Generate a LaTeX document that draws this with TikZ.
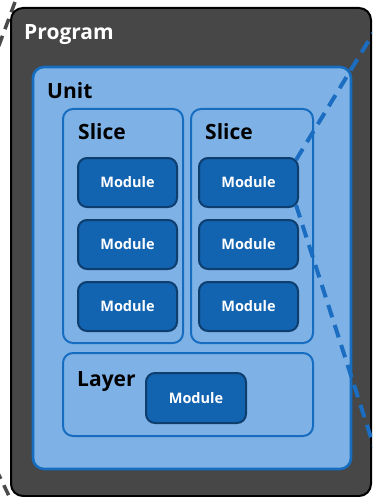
\documentclass[tikz,border=0pt]{standalone}
\usepackage{fontspec}
\setmainfont{Open Sans}
\definecolor{progfill}{HTML}{474747}
\definecolor{unitfill}{HTML}{7EB2E6}
\definecolor{unitline}{HTML}{166CBE}
\definecolor{modfill}{HTML}{1263B0}
\definecolor{modline}{HTML}{0D3E6E}
\definecolor{zoomline}{HTML}{1A6DC0}
\definecolor{outerdash}{HTML}{4A4A4A}
\tikzset{
  box/.style={rectangle, anchor=north west, inner sep=0pt, outer sep=0pt},
  progbox/.style={box, fill=progfill, draw=black, line width=2pt, rounded corners=12pt},
  unitbox/.style={box, fill=unitfill, draw=unitline, line width=2.6pt, rounded corners=11pt},
  slicebox/.style={box, fill=unitfill, draw=unitline, line width=2pt, rounded corners=10pt},
  modbox/.style={box, fill=modfill, draw=modline, line width=2pt, rounded corners=9pt,
    minimum width=99pt, minimum height=49pt},
  modtext/.style={text=white, font=\fontsize{14.5}{16}\selectfont\bfseries, inner sep=0pt},
  title/.style={anchor=base west, inner sep=0pt, font=\fontsize{21}{24}\selectfont\bfseries},
  zoomdash/.style={draw=zoomline, line width=4pt, dash pattern=on 13pt off 8pt},
  outdash/.style={draw=outerdash, line width=3.5pt, dash pattern=on 11pt off 7pt},
}
\begin{document}
\begin{tikzpicture}[x=1pt,y=-1pt]
\useasboundingbox (0,0) rectangle (372,497);
\clip (0,0) rectangle (372,497);

% dashed guides running out of the program frame on the left
\coordinate (tlA) at (15,2);
\coordinate (tlB) at (-2,48);
\draw[outdash] (tlA) -- (tlB);
\coordinate (blA) at (-4,469);
\coordinate (blB) at (10,498);
\draw[outdash] (blA) -- (blB);

% program frame
\node[progbox, minimum width=360pt, minimum height=488pt] (program) at (11,8) {};
\node[title, text=white] (programlbl) at (24,40) {Program};

% unit
\node[unitbox, minimum width=318pt, minimum height=402pt] (unit) at (33,67) {};
\node[title] (unitlbl) at (47,99) {Unit};

% slices
\node[slicebox, minimum width=120pt, minimum height=234pt] (sliceA) at (63,109) {};
\node[title] (sliceAlbl) at (78,140) {Slice};
\node[slicebox, minimum width=122pt, minimum height=234pt] (sliceB) at (191,109) {};
\node[title] (sliceBlbl) at (205,140) {Slice};

% modules in the slices
\foreach \r/\y in {1/158,2/220,3/282}{
  \node[modbox] (mA\r) at (78,\y) {};
  \node[modtext] at (mA\r.center) {Module};
  \node[modbox] (mB\r) at (199,\y) {};
  \node[modtext] at (mB\r.center) {Module};
}

% layer
\node[slicebox, minimum width=250pt, minimum height=83pt] (layer) at (63,353) {};
\node[title] (layerlbl) at (77,386) {Layer};
\node[modbox, minimum width=100pt, minimum height=50pt] (mL) at (146,373) {};
\node[modtext] at (mL.center) {Module};

% zoom guides from the first module of the second slice
\coordinate (zoomtop) at (380,22);
\coordinate (zoombot) at (375,450);
\draw[zoomdash] ([xshift=-2pt,yshift=-2pt]mB1.north east) -- (zoomtop);
\draw[zoomdash] ([xshift=-2pt,yshift=2pt]mB1.south east) -- (zoombot);
\end{tikzpicture}
\end{document}
